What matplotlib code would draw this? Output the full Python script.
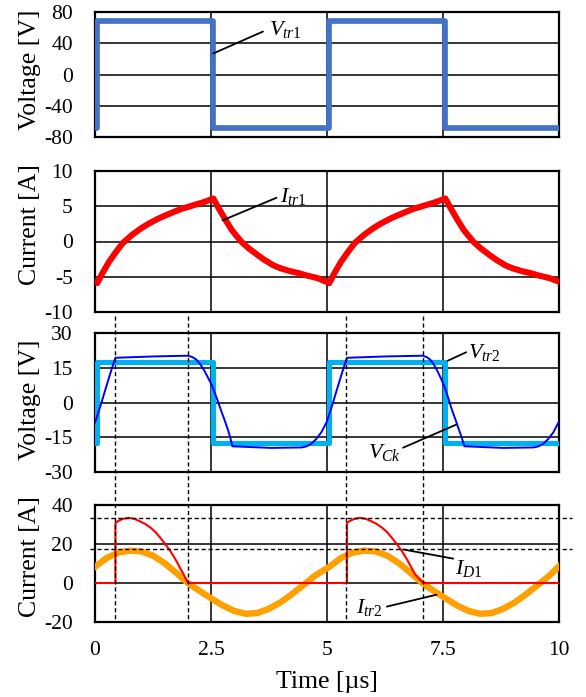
import matplotlib
matplotlib.use("Agg")
import matplotlib.pyplot as plt
import matplotlib.transforms as mtransforms
from matplotlib.lines import Line2D

plt.rcParams['font.family'] = ['Liberation Serif', 'DejaVu Serif']
plt.rcParams['mathtext.fontset'] = 'custom'
plt.rcParams['mathtext.rm'] = 'Liberation Serif'
plt.rcParams['mathtext.it'] = 'Liberation Serif:italic'
plt.rcParams['axes.unicode_minus'] = False

# ---- data (time in us) ----
t_sq = [0, 0.05, 0.05, 2.55, 2.55, 5.05, 5.05, 7.55, 7.55, 10]
v_tr1 = [-68, -68, 68, 68, -68, -68, 68, 68, -68, -68]
v_tr2 = [-17.3, -17.3, 17.6, 17.6, -17.3, -17.3, 17.6, 17.6, -17.3, -17.3]

t_itr1 = [0, 0.05, 0.15, 0.3, 0.45, 0.6, 0.8, 1.0, 1.15, 1.35, 1.5, 1.7, 1.85, 2.05, 2.2, 2.35, 2.55,
          2.65, 2.8, 2.95, 3.15, 3.3, 3.5, 3.65, 3.85, 4.0, 4.2, 4.4, 4.55, 4.8,
          5.05, 5.15, 5.3, 5.45, 5.6, 5.8, 6.0, 6.15, 6.35, 6.5, 6.7, 6.85, 7.05, 7.2, 7.35, 7.55,
          7.65, 7.8, 7.95, 8.15, 8.3, 8.5, 8.65, 8.85, 9.0, 9.2, 9.4, 9.55, 9.8, 10.0]
i_tr1 = [-5.7, -5.9, -4.6, -2.9, -1.5, -0.2, 0.95, 1.9, 2.5, 3.2, 3.65, 4.2, 4.6, 5.0, 5.3, 5.6, 6.1,
         4.9, 3.2, 1.6, 0.0, -0.9, -1.9, -2.6, -3.4, -3.8, -4.2, -4.5, -4.8, -5.2,
         -5.9, -4.6, -2.9, -1.5, -0.2, 0.95, 1.9, 2.5, 3.2, 3.65, 4.2, 4.6, 5.0, 5.3, 5.6, 6.1,
         4.9, 3.2, 1.6, 0.0, -0.9, -1.9, -2.6, -3.4, -3.8, -4.2, -4.5, -4.8, -5.2, -5.7]

t_vck = [0, 0.07, 0.14, 0.21, 0.28, 0.36, 0.44, 1.3, 2.0, 2.09, 2.18, 2.27, 2.36, 2.45, 2.54, 2.63, 2.72,
         2.8, 2.87, 2.92, 2.96, 3.8, 4.45, 4.55, 4.66, 4.77, 4.88, 4.99,
         5.06, 5.13, 5.2, 5.27, 5.35, 5.43, 6.3, 7.06, 7.14, 7.22, 7.3, 7.38, 7.46, 7.54, 7.62, 7.7,
         7.78, 7.85, 7.91, 7.96, 8.8, 9.45, 9.55, 9.66, 9.77, 9.88, 10.0]
v_ck = [-8.6, -4.4, 0, 4.7, 9.3, 14.5, 19.3, 19.9, 20.2, 19.7, 18.6, 16.5, 13.6, 10.2, 6.4, 1.5, -3.6,
        -8.0, -12.1, -15.5, -18.9, -19.6, -19.4, -19.0, -17.8, -15.7, -12.8, -8.6,
        -4.4, 0, 4.7, 9.3, 14.5, 19.3, 19.9, 20.2, 19.7, 18.6, 16.5, 13.6, 10.2, 6.4, 1.5, -3.6,
        -8.0, -12.1, -15.5, -18.9, -19.6, -19.4, -19.0, -17.8, -15.7, -12.8, -8.2]

t_itr2 = [0, 0.25, 0.5, 0.75, 1.0, 1.25, 1.5, 1.75, 2.0, 2.25, 2.5, 2.75, 3.0, 3.25, 3.5, 3.75, 4.0, 4.25, 4.5, 4.75,
          5.05, 5.3, 5.55, 5.8, 6.05, 6.3, 6.55, 6.8, 7.05, 7.3, 7.55, 7.8, 8.05, 8.3, 8.55, 8.8, 9.05, 9.3, 9.55, 9.8, 10.0]
i_tr2 = [8.3, 12.8, 15.6, 16.6, 16.2, 14.0, 10.2, 5.2, 0.0, -4.0, -7.8, -11.5, -14.3, -15.8, -15.4, -13.2, -9.9, -5.6, -0.9, 3.9,
         8.3, 12.8, 15.6, 16.6, 16.2, 14.0, 10.2, 5.2, 0.0, -4.0, -7.8, -11.5, -14.3, -15.8, -15.4, -13.2, -9.9, -5.6, -0.9, 3.9, 8.6]

t_id1 = [0, 0.44, 0.44, 0.5, 0.6, 0.72, 0.85, 0.97, 1.08, 1.19, 1.3, 1.4, 1.51, 1.62, 1.73, 1.83, 1.92, 2.0,
         5.43, 5.43, 5.49, 5.59, 5.71, 5.84, 5.96, 6.07, 6.18, 6.29, 6.39, 6.5, 6.61, 6.72, 6.82, 6.91, 7.07, 10]
i_d1 = [0, 0, 30.8, 31.8, 32.9, 33.4, 32.9, 31.6, 30.3, 28.5, 26.2, 23.4, 20.1, 16.5, 12.3, 7.9, 4.0, 0,
        0, 30.8, 31.8, 32.9, 33.4, 32.9, 31.6, 30.3, 28.5, 26.2, 23.4, 20.1, 16.5, 12.3, 7.9, 4.0, 0, 0]

t_marks = [0.44, 2.0, 5.42, 7.06]
i_levels = [33.5, 17.2]

W, H = 586, 697
fig = plt.figure(figsize=(W / 100, H / 100), dpi=100)


def add_panel(top, bottom):
    return fig.add_axes([95 / W, 1 - bottom / H, 464 / W, (bottom - top) / H])


ax1 = add_panel(12, 137)
ax2 = add_panel(171, 312)
ax3 = add_panel(333, 472)
ax4 = add_panel(505, 622)

setup = [
    (ax1, (-80, 80), [-80, -40, 0, 40, 80], 'Voltage [V]', 0.54),
    (ax2, (-10, 10), [-10, -5, 0, 5, 10], 'Current [A]', 0.62),
    (ax3, (-30, 30), [-30, -15, 0, 15, 30], 'Voltage [V]', 0.52),
    (ax4, (-20, 40), [-20, 0, 20, 40], 'Current [A]', 0.56),
]
for ax, ylim, yt, lab, ly in setup:
    ax.set_xlim(0, 10)
    ax.set_ylim(*ylim)
    ax.set_yticks(yt)
    ax.set_xticks([0, 2.5, 5, 7.5, 10])
    ax.grid(True, color='black', lw=1.1)
    ax.set_axisbelow(True)
    for s in ax.spines.values():
        s.set_linewidth(1.6)
    ax.tick_params(length=0, labelsize=15.5, pad=16)
    ax.set_ylabel(lab, fontsize=18.5)
    ax.yaxis.set_label_coords(-0.116, ly)
    if ax is not ax4:
        ax.tick_params(labelbottom=False)
ax4.set_xticklabels(['0', '2.5', '5', '7.5', '10'])
ax4.tick_params(axis='x', pad=14)
fig.text(327 / W, 1 - 682 / H, 'Time [\u00b5s]', fontsize=18.5, ha='center', va='center')

ax1.plot(t_sq, v_tr1, color='#4472C4', lw=4.1, zorder=3)
ax2.plot(t_itr1, i_tr1, color='#FF0000', lw=4.4, zorder=3)
ax3.plot(t_sq, v_tr2, color='#00B0F0', lw=3.7, zorder=3)
ax3.plot(t_vck, v_ck, color='#0000FF', lw=1.4, zorder=4)
ax4.plot(t_itr2, i_tr2, color='#FFA000', lw=4.6, zorder=3)
ax4.plot(t_id1, i_d1, color='#FF0000', lw=1.5, zorder=4)

# dashed markers
dash = (0, (3, 2))
trv = mtransforms.blended_transform_factory(ax4.transData, fig.transFigure)
for tm in t_marks:
    fig.add_artist(Line2D([tm, tm], [1 - 316 / H, 1 - 622 / H], transform=trv,
                          color='black', lw=1.0, linestyle=dash))
trh = mtransforms.blended_transform_factory(fig.transFigure, ax4.transData)
for lv in i_levels:
    fig.add_artist(Line2D([90 / W, 572 / W], [lv, lv], transform=trh,
                          color='black', lw=1.0, linestyle=dash))


def label(ax, xy, xyt, txt, tx, ty, ha='left'):
    ax.annotate('', xy=xy, xytext=xyt, arrowprops=dict(arrowstyle='-', lw=1.3, color='black',
                                                       shrinkA=0, shrinkB=0))
    ax.text(tx, ty, txt, fontsize=16, ha=ha, va='center')


label(ax1, (2.55, 27), (3.62, 55), r'$\mathit{V_{tr1}}$', 3.75, 57)
label(ax2, (2.75, 3.0), (3.91, 6.2), r'$\mathit{I_{tr1}}$', 3.99, 6.4)
label(ax3, (7.6, 18), (8.0, 21.7), r'$\mathit{V_{tr2}}$', 8.03, 21.4)
label(ax3, (7.79, -9.5), (6.64, -19.5), r'$\mathit{V_{Ck}}$', 6.6, -21.5, ha='right')
label(ax4, (6.64, 17.2), (7.72, 12.5), r'$\mathit{I_{D1}}$', 7.76, 7.5)
label(ax4, (7.36, -6.0), (6.29, -12.1), r'$\mathit{I_{tr2}}$', 6.2, -12.6, ha='right')

fig.savefig('out.png', dpi=100)
